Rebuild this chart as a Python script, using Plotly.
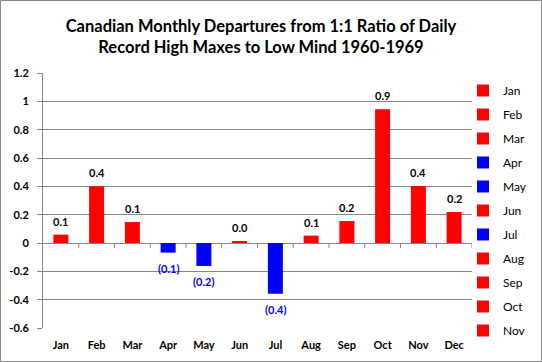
import plotly.graph_objects as go

months = ["Jan", "Feb", "Mar", "Apr", "May", "Jun", "Jul", "Aug", "Sep", "Oct", "Nov", "Dec"]
values = [0.059, 0.400, 0.148, -0.068, -0.162, 0.014, -0.358, 0.052, 0.155, 0.945, 0.402, 0.219]
bar_colors = ["#FF0000", "#FF0000", "#FF0000", "#0000FF", "#0000FF", "#FF0000",
              "#0000FF", "#FF0000", "#FF0000", "#FF0000", "#FF0000", "#FF0000"]
legend_months = months[:11]
y_ticks = [-0.6, -0.4, -0.2, 0, 0.2, 0.4, 0.6, 0.8, 1.0, 1.2]
y_tick_labels = ["-0.6", "-0.4", "-0.2", "0", "0.2", "0.4", "0.6", "0.8", "1", "1.2"]
title_text = "Canadian Monthly Departures from 1:1 Ratio of Daily<br>Record High Maxes to Low Mind 1960-1969"

FONT = "Lato"
GRID = "#868686"
W, H = 542, 362
ML, MR, MT, MB = 43, 70, 73, 34
PW, PH = W - ML - MR, H - MT - MB


def fmt(v):
    return f"{v:.1f}" if v >= 0 else f"({abs(v):.1f})"


fig = go.Figure()
for m, v, c in zip(months, values, bar_colors):
    fig.add_trace(go.Bar(
        x=[m], y=[v], name=m, legendgroup=m, marker_color=c,
        marker_line_width=0, width=0.42, showlegend=m in legend_months,
        hoverinfo="x+y",
    ))

annotations = []
for m, v in zip(months, values):
    annotations.append(dict(
        x=m, y=v, xref="x", yref="y", text=fmt(v), showarrow=False,
        yshift=13.5 if v >= 0 else -15.5,
        font=dict(family=FONT, size=11, color="#000000" if v >= 0 else "#0000FF", weight="bold"),
    ))

shapes = []
# zero-line category tick marks
for i in range(len(months)):
    shapes.append(dict(type="line", xref="x", yref="y", ysizemode="pixel", yanchor=0,
                       x0=i + 0.5, x1=i + 0.5, y0=0, y1=-5,
                       line=dict(color=GRID, width=1)))
# chart border
shapes.append(dict(type="rect", xref="paper", yref="paper",
                   x0=(0.5 - ML) / PW, x1=(W - 0.5 - ML) / PW,
                   y0=(H - MT - MB - (H - 0.5 - MT)) / PH, y1=(H - MT - MB + MT - 0.5) / PH,
                   line=dict(color=GRID, width=1), fillcolor="rgba(0,0,0,0)", layer="below"))

fig.update_layout(
    width=W, height=H,
    margin=dict(l=ML, r=MR, t=MT, b=MB, autoexpand=False),
    paper_bgcolor="white", plot_bgcolor="white",
    barmode="overlay",
    font=dict(family=FONT, size=11, color="#000000"),
    title=dict(text=title_text, x=261 / W, xref="container", xanchor="center",
               y=1 - 32 / H, yref="container", yanchor="top",
               font=dict(family=FONT, size=16.5, color="#000000", weight="bold")),
    xaxis=dict(type="category", categoryorder="array", categoryarray=months,
               range=[-0.5, len(months) - 0.5], showgrid=False, showline=False,
               zeroline=False, ticks="", ticklabelstandoff=9,
               tickfont=dict(family=FONT, size=11, color="#000000", weight="bold")),
    yaxis=dict(range=[-0.6, 1.2], tickvals=y_ticks, ticktext=y_tick_labels,
               showgrid=True, gridcolor=GRID, gridwidth=1, zeroline=False,
               showline=True, linecolor=GRID, linewidth=1,
               ticks="outside", ticklen=5, tickcolor=GRID, ticklabelstandoff=6,
               tickfont=dict(family=FONT, size=11, color="#000000", weight="bold")),
    legend=dict(x=(463 - ML) / PW, xanchor="left", y=(H - MB - 76) / PH, yanchor="top",
                traceorder="grouped", tracegroupgap=5.0, bgcolor="rgba(0,0,0,0)",
                maxheight=400,
                font=dict(family=FONT, size=12, color="#000000")),
    annotations=annotations,
    shapes=shapes,
    hovermode="closest",
)

fig.write_html("out.html", config={"displayModeBar": False},
               post_script="document.body.style.margin='0';document.body.style.overflow='hidden';")
